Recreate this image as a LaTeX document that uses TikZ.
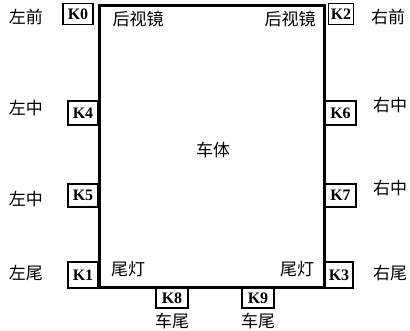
\documentclass[tikz,border=0pt]{standalone}
\usepackage{fontspec}
\setmainfont{Liberation Serif}
\newfontfamily\cjk{Noto Sans CJK SC}
\begin{document}
\begin{tikzpicture}[x=1pt,y=-1pt,
  kbox/.style={draw,line width=1.2pt,inner sep=0pt,font=\bfseries\fontsize{16}{16}\selectfont},
  lbl/.style={font=\cjk\fontsize{17}{17}\selectfont,inner sep=0pt}]
\useasboundingbox (0,0) rectangle (410,331);
\node[draw,line width=2.6pt,inner sep=0pt,minimum width=225pt,minimum height=282pt] (body) at (212,146.5) {};
\node[lbl] (bodylbl) at (213,150) {车体};
% K boxes
\node[kbox,minimum width=30pt,minimum height=21pt] (k0) at (78,14) {K0};
\node[kbox,minimum width=25pt,minimum height=21pt] (k2) at (341,14) {K2};
\node[kbox,minimum width=30pt,minimum height=24pt] (k4) at (83,113) {K4};
\node[kbox,minimum width=30pt,minimum height=23pt] (k5) at (83,195.5) {K5};
\node[kbox,minimum width=31pt,minimum height=24pt] (k6) at (340.5,113) {K6};
\node[kbox,minimum width=31pt,minimum height=23pt] (k7) at (340.5,195.5) {K7};
\node[kbox,minimum width=30pt,minimum height=26pt] (k1) at (83,275) {K1};
\node[kbox,minimum width=28pt,minimum height=26pt] (k3) at (339,275) {K3};
\node[kbox,minimum width=32pt,minimum height=20pt] (k8) at (172,298) {K8};
\node[kbox,minimum width=32pt,minimum height=20pt] (k9) at (258,298) {K9};
% outside labels
\node[lbl] (lf) at (26,17) {左前};
\node[lbl] (rf) at (388,17) {右前};
\node[lbl] (lm1) at (26,108) {左中};
\node[lbl] (lm2) at (26,199) {左中};
\node[lbl] (rm1) at (390,105) {右中};
\node[lbl] (rm2) at (390,188) {右中};
\node[lbl] (lr) at (26,273) {左尾};
\node[lbl] (rr) at (390,273) {右尾};
\node[lbl] (t8) at (172,321) {车尾};
\node[lbl] (t9) at (258,321) {车尾};
% inside labels
\node[lbl] (mirl) at (138,19) {后视镜};
\node[lbl] (mirr) at (290,19) {后视镜};
\node[lbl] (taill) at (128,269) {尾灯};
\node[lbl] (tailr) at (297,269) {尾灯};
\end{tikzpicture}
\end{document}
